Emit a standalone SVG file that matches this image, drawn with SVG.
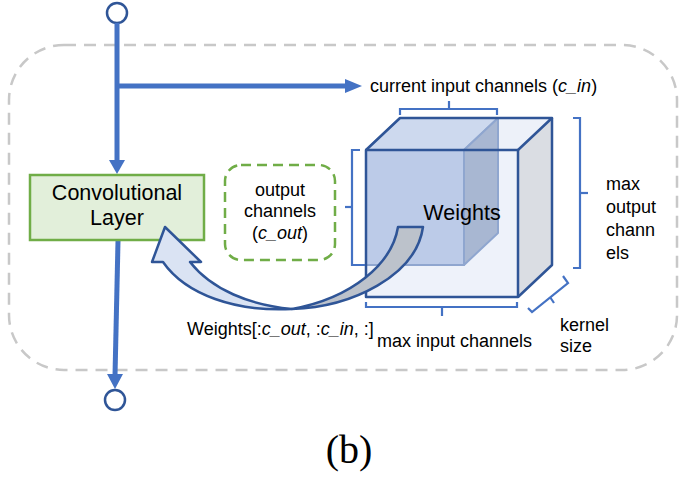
<svg xmlns="http://www.w3.org/2000/svg" width="689" height="485" viewBox="0 0 689 485">
<style>
.t{font-family:"Liberation Sans",Arial,sans-serif;fill:#000}
.s{font-size:18px}
.b{font-size:21.5px}
.i{font-style:italic}
.wire{stroke:#4472c4;stroke-width:5;fill:none}
.head{fill:#4472c4}
.port{fill:#fff;stroke:#2f5597;stroke-width:2.5}
.br{stroke:#4472c4;stroke-width:2.2;fill:none}
.edge{stroke:#2f5597;stroke-width:2.5;fill:none;stroke-linejoin:round}
.iedge{stroke:#8fa6cf;stroke-width:2;stroke-linejoin:round}
</style>
<rect width="689" height="485" fill="#fff"/>
<g id="frame">
<rect x="9" y="45" width="668" height="325" rx="55" ry="55" fill="none" stroke="#c8c8c8" stroke-width="2.5" stroke-dasharray="12 8"/>
</g>
<g id="connectors">
<circle class="port" cx="117" cy="13" r="10"/>
<line class="wire" x1="117" y1="23" x2="117" y2="162"/>
<polygon class="head" points="109,160 125,160 117,174"/>
<line class="wire" x1="117" y1="86" x2="347" y2="86"/>
<polygon class="head" points="345,79 345,93 362,86"/>
<line class="wire" x1="118" y1="241" x2="115" y2="376"/>
<polygon class="head" points="107,374 123,374 115,389"/>
<circle class="port" cx="115" cy="400" r="10"/>
</g>
<g id="conv-layer">
<rect x="30" y="175" width="174" height="65" fill="#e2efda" stroke="#70ad47" stroke-width="2.5"/>
<text class="t b" x="117" y="200" text-anchor="middle">Convolutional</text>
<text class="t b" x="117" y="225" text-anchor="middle">Layer</text>
</g>
<g id="output-channels">
<rect x="225" y="165" width="110" height="95" rx="16" ry="16" fill="#fff" stroke="#70ad47" stroke-width="2.5" stroke-dasharray="10 6"/>
<text class="t s" x="280" y="196" text-anchor="middle">output</text>
<text class="t s" x="280" y="217" text-anchor="middle">channels</text>
<text class="t s" x="280" y="239" text-anchor="middle">(<tspan class="i">c_out</tspan>)</text>
</g>
<g id="cin-label">
<text class="t s" x="370" y="92">current input channels (<tspan class="i">c_in</tspan>)</text>
</g>
<g id="weights">
<polygon points="366,150 400,118 552,118 518,150" fill="#edf1f9"/>
<rect x="366" y="150" width="152" height="147" fill="#eef2fa"/>
<polygon points="518,150 552,118 552,265 518,297" fill="#dadde3"/>
<polygon class="iedge" points="366,150 400,118 498,118 464,150" fill="#cdd9ee"/>
<rect class="iedge" x="366" y="150" width="98" height="115" fill="#bccbe8"/>
<polygon class="iedge" points="464,150 498,118 498,233 464,265" fill="#a8b7d2"/>
<rect class="edge" x="366" y="150" width="152" height="147"/>
<polyline class="edge" points="366,150 400,118 552,118 518,150"/>
<polyline class="edge" points="552,118 552,265 518,297"/>
<text class="t b" x="462" y="220" text-anchor="middle">Weights</text>
</g>
<g id="brackets">
<polyline class="br" points="400,115 400,109 497,109 497,115"/>
<line class="br" x1="449" y1="109" x2="449" y2="101"/>
<polyline class="br" points="360,150 352,150 352,265 365,265"/>
<line class="br" x1="352" y1="207" x2="345" y2="207"/>
<polyline class="br" points="573,118 580,118 580,268 573,268"/>
<line class="br" x1="580" y1="193" x2="588" y2="193"/>
<polyline class="br" points="366,302 366,307 517,307 517,302"/>
<line class="br" x1="442" y1="307" x2="442" y2="316"/>
<polyline class="br" points="563,276 568,283 532,312 528,308"/>
<line class="br" x1="550" y1="297" x2="554" y2="303"/>
</g>
<g id="slice-arrow">
<path d="M292,309 C352,307 416,276 423,227 L398,227 C392,264 352,298 292,309 Z" fill="#bcc2cb" stroke="#2f5597" stroke-width="2.5" stroke-linejoin="round"/>
<path d="M152,262 L165,227 L201,262 L190,262 C212,290 250,305 292,309 C236,312 186,295 163,262 Z" fill="#dae3f3" stroke="#2f5597" stroke-width="2.5" stroke-linejoin="round"/>
</g>
<g id="labels">
<text class="t s" x="606" y="190">max</text>
<text class="t s" x="606" y="213">output</text>
<text class="t s" x="606" y="236">chann</text>
<text class="t s" x="606" y="259">els</text>
<text class="t s" x="560" y="331">kernel</text>
<text class="t s" x="560" y="352">size</text>
<text class="t s" x="187" y="335">Weights[:<tspan class="i">c_out</tspan>, :<tspan class="i">c_in</tspan>, :]</text>
<text class="t s" x="377" y="347">max input channels</text>
<text x="349" y="463" text-anchor="middle" font-family="'Liberation Serif','Times New Roman',serif" font-size="40">(b)</text>
</g>
</svg>
